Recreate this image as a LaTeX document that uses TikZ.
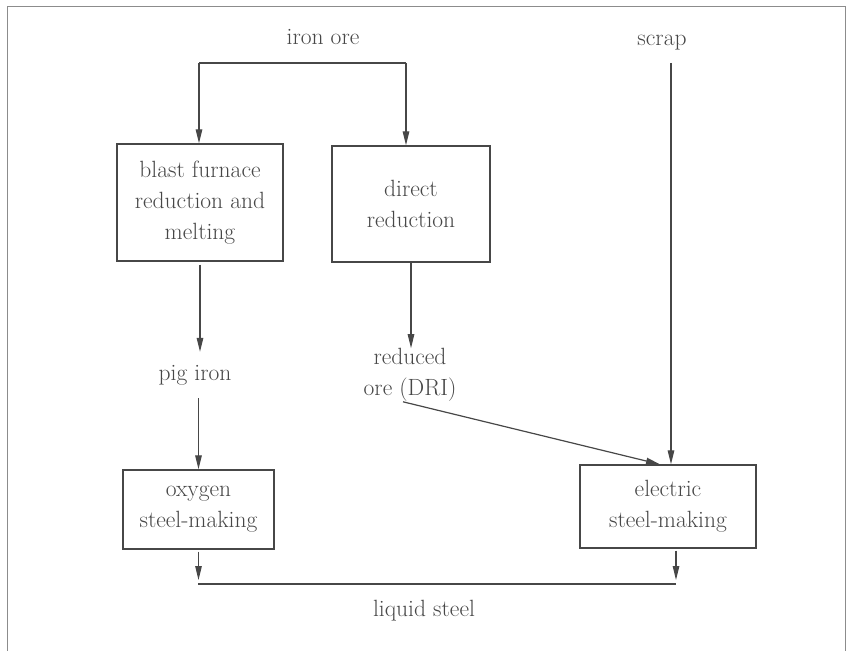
\documentclass[tikz,border=0pt]{standalone}
\usepackage{tikz}
\usetikzlibrary{arrows.meta}

\begin{document}
\begin{tikzpicture}[
  x=1pt, y=-1pt,
  font=\fontsize{23.5}{31}\selectfont,
  every node/.style={text=black!72},
  box/.style={draw=black!72, line width=1.3pt, align=center, inner sep=0pt},
  flow/.style={align=center, inner sep=2pt},
  line/.style={draw=black!72, line width=1.2pt},
  arrow/.style={line, -{Triangle[length=14pt, width=6.5pt]}},
]
\useasboundingbox (0,0) rectangle (850,650);
\draw[black!45, line width=1pt] (7,652) |- (845,7) -- (845,652);

\node[flow] (ore) at (323,37) {iron ore};
\node[flow] (scrap) at (662,43) {scrap};
\node[box, minimum width=166pt, minimum height=117pt] (blast) at (200,202.5) {blast furnace\\reduction and\\melting};
\node[box, minimum width=158pt, minimum height=116pt] (direct) at (411,204) {direct\\reduction};
\node[flow, inner ysep=13pt] (pig) at (195,375) {pig iron};
\node[flow, inner sep=0pt] (dri) at (410,375) {reduced\\ore (DRI)};
\node[box, minimum width=151pt, minimum height=79pt] (oxygen) at (198.5,509.5) {oxygen\\steel-making};
\node[box, minimum width=176pt, minimum height=83pt] (electric) at (668,506.5) {electric\\steel-making};
\node[flow] (liquid) at (424,611) {liquid steel};

\coordinate (fl) at (199,63);
\coordinate (fr) at (406,63);
\coordinate (sc) at (671,63);
\coordinate (cl) at (198,584);
\coordinate (cr) at (676,584);

% iron ore split
\draw[line] (fl) -- (fr);
\draw[arrow] (fl) -- (fl |- blast.north);
\draw[arrow] (fr) -- (fr |- direct.north);
\draw[arrow] (sc) -- (sc |- electric.north);

\draw[arrow, shorten <=3pt] (blast.south) -- (blast.south |- pig.north);
\draw[arrow] (direct.south) -- (direct.south |- dri.north);
\draw[arrow] (oxygen.north |- pig.south) -- (oxygen.north);
\draw[arrow] ([xshift=-7pt]dri.south) -- ([xshift=-8pt]electric.north);

% liquid steel
\draw[arrow, shorten <=2pt, shorten >=4pt] (oxygen.south) -- (oxygen.south |- cl);
\draw[arrow, shorten <=2pt, shorten >=4pt] (electric.south -| cr) -- (cr);
\draw[line] (cl) -- (cr);
\end{tikzpicture}
\end{document}
